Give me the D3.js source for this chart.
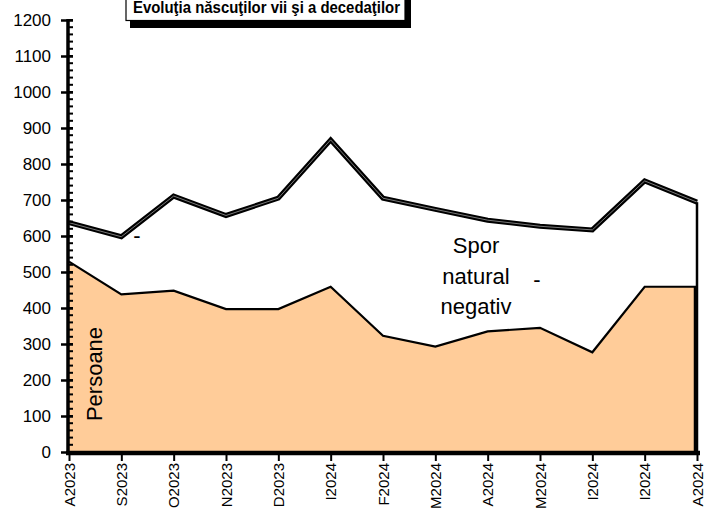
<!DOCTYPE html>
<html>
<head>
<meta charset="utf-8">
<script src="https://cdn.jsdelivr.net/npm/d3@7"></script>
<style>
  body { margin: 0; background: #fff; }
  svg { font-family: "Liberation Sans", Arial, sans-serif; }
</style>
</head>
<body>
<div class="chart"></div>
<script>
// Date
const luni = ['A2023', 'S2023', 'O2023', 'N2023', 'D2023', 'I2024', 'F2024',
              'M2024', 'A2024', 'M2024', 'I2024', 'I2024', 'A2024'];
// decedati (linia de sus)
const decedati = [637, 598, 711, 657, 705, 867, 705, 674, 644, 627, 617, 753, 694];
// nascuti vii (aria portocalie)
const nascuti = [529, 438, 448, 397, 397, 459, 323, 293, 335, 345, 277, 459, 459];
const yTicks = [0, 100, 200, 300, 400, 500, 600, 700, 800, 900, 1000, 1100, 1200];

const svg_width = 709, svg_height = 522;
const svg = d3.select('.chart').append('svg')
    .attr('width', svg_width).attr('height', svg_height);

const x = d3.scaleLinear().domain([0, luni.length - 1]).range([69, 697]);
const y = d3.scaleLinear().domain([0, 1200]).range([452, 20]);
const idx = d3.range(luni.length);
const last = luni.length - 1;

// aria decedatilor (alb)
const areaDec = d3.area().x(i => x(i)).y0(y(0)).y1(i => y(decedati[i]));
svg.append('path').datum(idx).attr('d', areaDec)
    .attr('fill', '#fff').attr('stroke', 'none');

// aria nascutilor
const areaNasc = d3.area().x(i => x(i)).y0(y(0)).y1(i => y(nascuti[i]));
svg.append('path').datum(idx).attr('d', areaNasc)
    .attr('fill', '#FFCC99').attr('stroke', 'none');
svg.append('path').datum(idx)
    .attr('d', d3.line().x(i => x(i)).y(i => y(nascuti[i])))
    .attr('fill', 'none').attr('stroke', '#000').attr('stroke-width', 2.2);

// linia dubla a decedatilor
const lineDec = d3.line().x(i => x(i)).y(i => y(decedati[i]));
svg.append('path').datum(idx).attr('d', lineDec)
    .attr('fill', 'none').attr('stroke', '#000').attr('stroke-width', 5)
    .attr('stroke-linejoin', 'miter');
svg.append('path').datum(idx).attr('d', lineDec)
    .attr('fill', 'none').attr('stroke', '#999').attr('stroke-width', 0.8);

// margine dreapta
svg.append('line')
    .attr('x1', x(last)).attr('x2', x(last))
    .attr('y1', y(decedati[last])).attr('y2', y(0))
    .attr('stroke', '#000').attr('stroke-width', 2.5);
svg.append('line')
    .attr('x1', x(last) - 1.5).attr('x2', x(last) - 1.5)
    .attr('y1', y(nascuti[last])).attr('y2', y(0))
    .attr('stroke', '#000').attr('stroke-width', 3.5);

// axa Y - gradatii minore
svg.append('g').selectAll('line').data(d3.range(0, 1201, 20)).join('line')
    .attr('x1', x(0) - 1).attr('x2', x(0) + 4)
    .attr('y1', d => y(d)).attr('y2', d => y(d))
    .attr('stroke', '#000').attr('stroke-width', 2);

const yAxis = d3.axisLeft(y).tickValues(yTicks).tickFormat(d3.format('d'))
    .tickSizeInner(6).tickSizeOuter(0).tickPadding(11);
const yAxisDraw = svg.append('g').attr('class', 'y axis')
    .attr('transform', `translate(${x(0) - 1},0)`)
    .call(yAxis);
yAxisDraw.select('.domain').remove();
yAxisDraw.append('line').attr('y1', y(1200) - 1).attr('y2', y(0) + 2)
    .attr('stroke', '#000').attr('stroke-width', 3.5);
yAxisDraw.selectAll('.tick line').attr('x2', -7).attr('x1', 5).attr('stroke-width', 2.5);
yAxisDraw.selectAll('text').style('font-size', '17px').attr('fill', '#000');

// axa X
const xAxis = d3.axisBottom(x).tickValues(idx).tickFormat(i => luni[i])
    .tickSizeInner(8).tickSizeOuter(0).tickPadding(6);
const xAxisDraw = svg.append('g').attr('class', 'x axis')
    .attr('transform', `translate(0,${y(0) + 1})`)
    .call(xAxis);
xAxisDraw.select('.domain').attr('stroke-width', 4.5).attr('d', `M${x(0) - 3},0H${x(last) + 3}`);
xAxisDraw.selectAll('.tick line').attr('stroke-width', 2);
xAxisDraw.selectAll('text')
    .style('font-size', '15px').attr('fill', '#000')
    .attr('transform', 'rotate(-90)')
    .attr('text-anchor', 'end')
    .attr('dy', '0.35em').attr('x', -10).attr('y', 0);

// etichete
svg.append('text').attr('transform', 'translate(102,374) rotate(-90)')
    .attr('text-anchor', 'middle').style('font-size', '22px').text('Persoane');

const spor = svg.append('text').attr('text-anchor', 'middle').style('font-size', '22px');
['Spor', 'natural', 'negativ'].forEach((t, k) => {
    spor.append('tspan').attr('x', 476).attr('y', 253 + k * 30.5).text(t);
});
svg.append('text').attr('x', 537).attr('y', 287).attr('text-anchor', 'middle')
    .style('font-size', '22px').text('-');
svg.append('text').attr('x', 137).attr('y', 243).attr('text-anchor', 'middle')
    .style('font-size', '22px').text('-');

// titlu cu umbra
const title = svg.append('g');
title.append('rect').attr('x', 130).attr('y', -10).attr('width', 281).attr('height', 38).attr('fill', '#000');
title.append('rect').attr('x', 126).attr('y', -12).attr('width', 279).attr('height', 32.5)
    .attr('fill', '#fff').attr('stroke', '#000').attr('stroke-width', 1.2);
title.append('text').attr('x', 133).attr('y', 13)
    .attr('textLength', 267).attr('lengthAdjust', 'spacingAndGlyphs')
    .style('font-size', '17px').style('font-weight', 'bold')
    .text('Evoluţia născuţilor vii şi a decedaţilor');
</script>
</body>
</html>
